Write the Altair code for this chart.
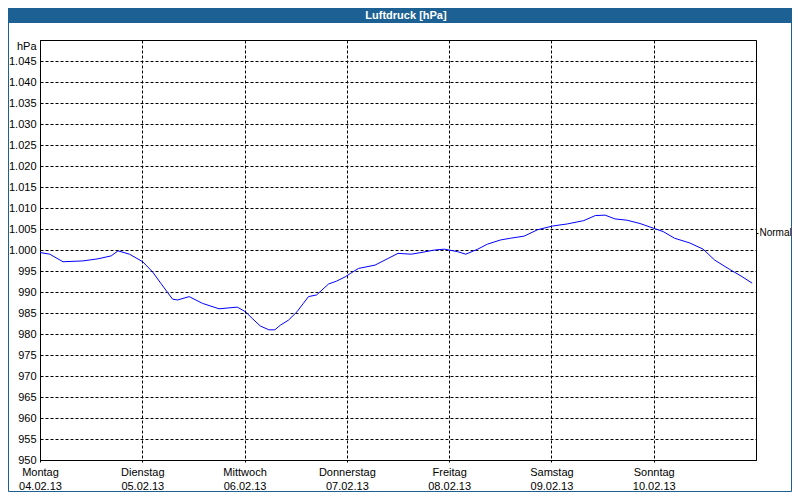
import altair as alt
import pandas as pd

# --- data ---
hours = [0, 2.3, 5.4, 10.1, 13.6, 16.7, 18.3, 21.0, 24.1, 26.4, 28.4, 31.1, 32.3, 35.0,
         38.1, 42.0, 46.3, 48.2, 49.8, 51.7, 53.7, 55.1, 56.4, 58.3, 60.3, 61.8, 63.0,
         64.9, 67.7, 69.6, 71.6, 72.8, 74.7, 78.6, 81.7, 84.0, 87.1, 89.4, 92.6, 94.9,
         98.0, 99.9, 102.7, 105.0, 108.1, 110.4, 113.6, 116.7, 120.2, 123.7, 127.6,
         130.3, 132.6, 134.9, 137.7, 140.8, 143.9, 146.2, 148.9, 152.4, 155.6, 158.3,
         161.8, 164.5, 167.1]
pressure = [999.4, 999.0, 997.2, 997.4, 997.9, 998.6, 999.8, 999.0, 997.2, 994.8, 992.0,
            988.3, 988.1, 988.9, 987.3, 986.0, 986.4, 985.3, 983.7, 981.9, 981.0, 981.0,
            982.1, 983.3, 985.3, 987.3, 988.9, 989.3, 991.9, 992.6, 993.6, 994.4, 995.6,
            996.4, 998.0, 999.2, 999.0, 999.4, 1000.0, 1000.2, 999.6, 999.0, 1000.2,
            1001.4, 1002.4, 1002.8, 1003.3, 1004.8, 1005.7, 1006.2, 1007.0, 1008.2,
            1008.3, 1007.4, 1007.1, 1006.3, 1005.2, 1004.4, 1002.8, 1001.7, 1000.2,
            997.6, 995.4, 993.8, 992.1]

day_hours = [0, 24, 48, 72, 96, 120, 144]
day_names = ["Montag", "Dienstag", "Mittwoch", "Donnerstag", "Freitag", "Samstag", "Sonntag"]
day_dates = ["04.02.13", "05.02.13", "06.02.13", "07.02.13", "08.02.13", "09.02.13", "10.02.13"]

y_ticks = list(range(950, 1051, 5))
normal_value = [1004.1]
normal_label = "Normal"
title_text = "Luftdruck [hPa]"
unit_label = "hPa"

FONT = "Liberation Sans"
BLUE_FRAME = "#1d6194"

W, H = 716, 420          # plot area
PL, PT = 32, 32          # left / top padding
TOTAL_W, TOTAL_H = 784, 484
PR, PB = TOTAL_W - PL - W, TOTAL_H - PT - H

df = pd.DataFrame({"h": hours, "p": pressure})

x_label_expr = " : ".join(
    f"datum.value == {h} ? ['{n}', '{d}']" for h, n, d in zip(day_hours, day_names, day_dates)
) + " : ''"

y_label_expr = (
    f"datum.value == 1050 ? '{unit_label}' : "
    "replace(format(datum.value, ',d'), ',', '.')"
)

x_scale = alt.Scale(domain=[0, 168], nice=False, zero=False)
y_scale = alt.Scale(domain=[950, 1050], nice=False, zero=False)

line = alt.Chart(df).mark_line(color="#0000ff", strokeWidth=1, interpolate="linear").encode(
    x=alt.X("h:Q", scale=x_scale,
            axis=alt.Axis(values=day_hours, labelExpr=x_label_expr, title=None,
                          grid=True, gridDash=[3, 2], gridColor="black", gridOpacity=1,
                          tickSize=3, tickColor="black", tickDash=[2, 1],
                          labelPadding=3, labelLineHeight=14, labelFontSize=11,
                          labelAlign="center", labelBaseline="top",
                          labelOverlap=False, labelFlush=False, labelBound=False,
                          domainColor="black")),
    y=alt.Y("p:Q", scale=y_scale,
            axis=alt.Axis(values=y_ticks, labelExpr=y_label_expr, title=None,
                          grid=True, gridDash=[3, 2], gridColor="black", gridOpacity=1,
                          ticks=False, labelPadding=4, labelFontSize=11,
                          labelBaseline={"condition": {"test": "datum.value == 1050", "value": "top"},
                                         "value": "middle"},
                          labelOverlap=False, labelFlush=False, labelBound=False,
                          domainColor="black")),
)

normal = alt.Chart(pd.DataFrame({"n": normal_value})).mark_point(opacity=0).encode(
    x=alt.value(0),
    y=alt.Y("n:Q", scale=y_scale,
            axis=alt.Axis(orient="right", values=normal_value, labelExpr=f"'{normal_label}'",
                          title=None, grid=False, domain=False, tickSize=2, tickColor="black",
                          labelPadding=1, labelFontSize=10, labelBaseline="middle")),
)

one = alt.Data(values=[{"a": 1}])

title_bar = alt.Chart(one).mark_rect(color=BLUE_FRAME).encode(
    x=alt.value(-PL), x2=alt.value(TOTAL_W - PL), y=alt.value(-PT), y2=alt.value(-PT + 15)
)
title = alt.Chart(one).mark_text(
    text=title_text, color="white", font=FONT, fontSize=11, fontWeight="bold",
    align="center", baseline="middle"
).encode(x=alt.value(TOTAL_W / 2 - PL + 6), y=alt.value(-PT + 7.5))

frame = alt.Chart(one).mark_rect(fill=None, filled=False, stroke=BLUE_FRAME, strokeWidth=1).encode(
    x=alt.value(-PL + 0.5), x2=alt.value(TOTAL_W - PL - 0.5),
    y=alt.value(-PT + 8), y2=alt.value(TOTAL_H - PT - 0.5)
)

chart = alt.layer(frame, title_bar, title, line, normal).resolve_scale(
    y="independent"
).properties(
    width=W, height=H,
    autosize=alt.AutoSizeParams(type="none"),
    padding={"left": PL, "top": PT, "right": PR, "bottom": PB},
    background="white",
).configure_view(
    stroke="black", strokeWidth=1
).configure_axis(
    labelFont=FONT, labelColor="black", domainColor="black", domainWidth=1
)

chart.save("out.html", embed_options={"renderer": "svg", "actions": False})
